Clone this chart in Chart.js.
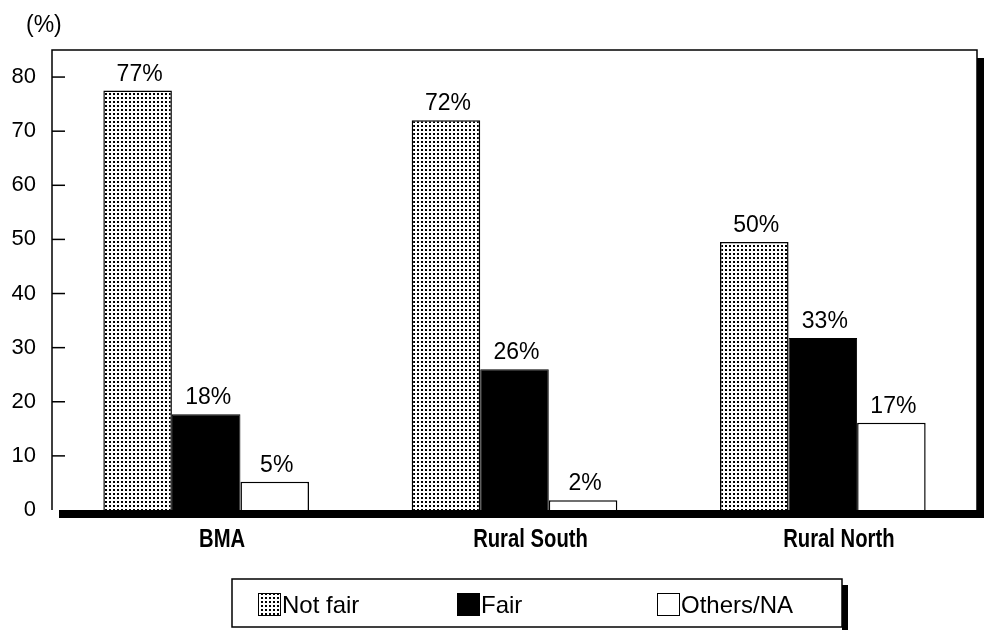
<!DOCTYPE html>
<html>
<head>
<meta charset="utf-8">
<script src="https://cdn.jsdelivr.net/npm/chart.js@4"></script>
<style>
  html, body { margin: 0; padding: 0; background: #fff; }
  #wrap { width: 984px; height: 630px; }
</style>
</head>
<body>
<div id="wrap"><canvas id="chart" width="984" height="630"></canvas></div>
<script>
const regions = ['BMA', 'Rural South', 'Rural North'];
const seriesNames = ['Not fair', 'Fair', 'Others/NA'];
// bar heights as drawn, and the numbers printed over them
const notFair = [77.5, 72, 49.5];
const fair = [17.7, 26, 31.8];
const others = [5.2, 1.8, 16.1];
const notFairText = ['77%', '72%', '50%'];
const fairText = ['18%', '26%', '33%'];
const othersText = ['5%', '2%', '17%'];
const yTicks = [0, 10, 20, 30, 40, 50, 60, 70, 80];

function dots(size, step) {
  const c = document.createElement('canvas');
  c.width = step; c.height = step;
  const g = c.getContext('2d');
  g.fillStyle = '#fff';
  g.fillRect(0, 0, step, step);
  g.fillStyle = '#000';
  g.fillRect(1, 1, size, size);
  return g.createPattern(c, 'repeat');
}

const ctx = document.getElementById('chart').getContext('2d');
const dotFill = dots(2, 4);
const dotIcon = dots(2, 4);

const labelTexts = [notFairText, fairText, othersText];

const decor = {
  id: 'decor',
  beforeDraw(chart) {
    const g = chart.ctx;
    g.save();
    g.fillStyle = '#fff';
    g.fillRect(0, 0, chart.width, chart.height);
    g.restore();
  },
  afterDatasetsDraw(chart) {
    const g = chart.ctx;
    const a = chart.chartArea;
    const x = chart.scales.x;
    const y = chart.scales.y;
    g.save();
    g.strokeStyle = '#000';
    g.fillStyle = '#000';
    // frame
    g.lineWidth = 1.5;
    g.beginPath();
    g.moveTo(a.left, a.bottom);
    g.lineTo(a.left, a.top);
    g.lineTo(a.right, a.top);
    g.lineTo(a.right, a.bottom);
    g.stroke();
    // shadow
    g.fillRect(a.left + 7, a.bottom, chart.width - a.left - 7, 8);
    g.fillRect(a.right, a.top + 8, 7, a.bottom - a.top);
    // inner ticks
    g.lineWidth = 1.5;
    yTicks.forEach(v => {
      if (v === 0) return;
      const py = y.getPixelForValue(v);
      g.beginPath();
      g.moveTo(a.left, py);
      g.lineTo(a.left + 13, py);
      g.stroke();
    });
    // category labels, condensed bold
    g.font = 'bold 25px "Liberation Sans", Arial, sans-serif';
    g.textAlign = 'center';
    g.textBaseline = 'middle';
    regions.forEach((r, i) => {
      const px = x.getPixelForValue(i) + 16;
      g.save();
      g.translate(px, 540);
      g.scale(0.81, 1);
      g.fillText(r, 0, 0);
      g.restore();
    });
    // value labels
    g.font = '23px "Liberation Sans", Arial, sans-serif';
    g.textBaseline = 'alphabetic';
    chart.data.datasets.forEach((ds, i) => {
      chart.getDatasetMeta(i).data.forEach((bar, j) => {
        g.fillText(labelTexts[i][j], bar.x + 2, bar.y - 10);
      });
    });
    // unit
    g.textAlign = 'left';
    g.fillText('(%)', 26, 32);
    // legend
    g.fillStyle = '#000';
    g.fillRect(842, 585, 6, 45);
    g.fillStyle = '#fff';
    g.fillRect(232, 579, 610, 48);
    g.lineWidth = 1.5;
    g.strokeRect(232, 579, 610, 48);
    const iconX = [258, 457, 657];
    g.font = '24px "Liberation Sans", Arial, sans-serif';
    chart.data.datasets.forEach((ds, i) => {
      const ix = iconX[i];
      g.fillStyle = i === 0 ? dotIcon : ds.backgroundColor;
      g.fillRect(ix, 593, 22, 22);
      g.lineWidth = 1;
      g.strokeRect(ix + 0.5, 593.5, 22, 22);
      g.fillStyle = '#000';
      g.fillText(ds.label, ix + 24, 613);
    });
    g.restore();
  }
};

new Chart(ctx, {
  type: 'bar',
  data: {
    labels: regions,
    datasets: [
      { label: seriesNames[0], data: notFair, backgroundColor: dotFill, borderColor: '#000', borderWidth: 1.5 },
      { label: seriesNames[1], data: fair, backgroundColor: '#000', borderColor: '#000', borderWidth: 1 },
      { label: seriesNames[2], data: others, backgroundColor: '#fff', borderColor: '#000', borderWidth: 1.5 }
    ]
  },
  options: {
    responsive: false,
    animation: false,
    layout: { padding: { top: 50, right: 7, left: 0, bottom: 0 } },
    datasets: { bar: { categoryPercentage: 0.667, barPercentage: 1 } },
    plugins: { legend: { display: false }, tooltip: { enabled: false } },
    scales: {
      x: {
        grid: { display: false, drawTicks: false },
        border: { display: false },
        afterFit(s) { s.height = 120; },
        ticks: { display: false }
      },
      y: {
        min: 0,
        max: 85,
        grid: { display: false, drawTicks: false },
        border: { display: false },
        afterFit(s) { s.width = 52; },
        afterBuildTicks(s) { s.ticks = yTicks.map(v => ({ value: v })); },
        ticks: {
          color: '#000',
          padding: 16,
          font: { family: '"Liberation Sans", Arial, sans-serif', size: 22 }
        }
      }
    }
  },
  plugins: [decor]
});
</script>
</body>
</html>
